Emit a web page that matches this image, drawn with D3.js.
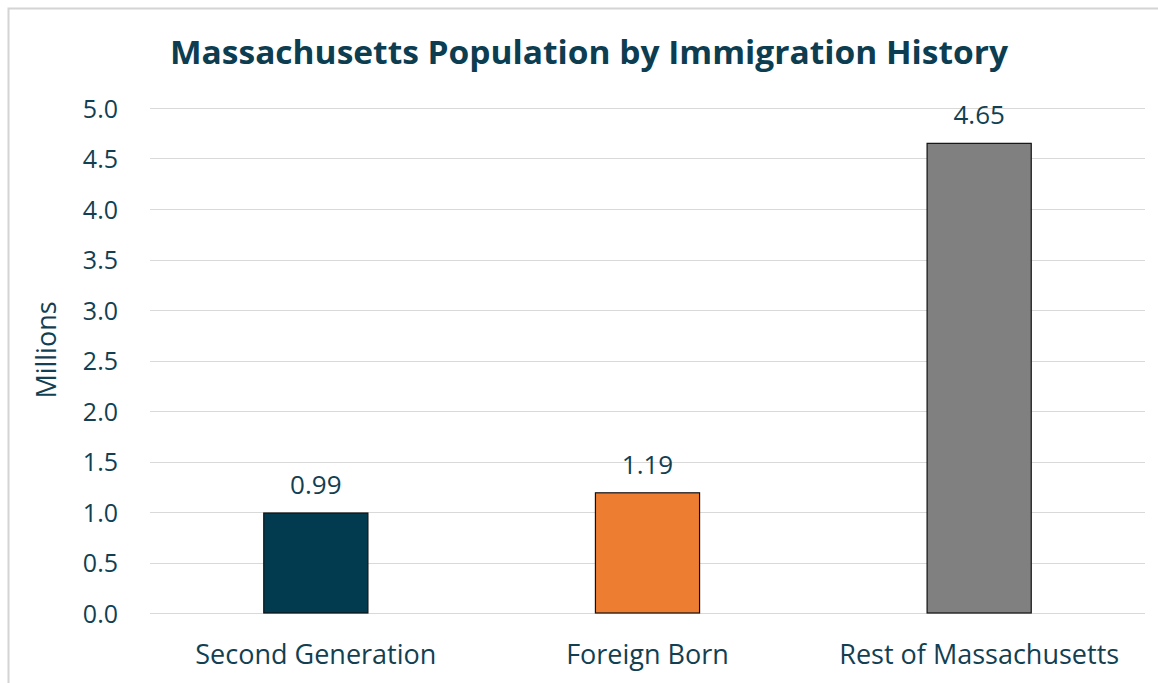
<!DOCTYPE html>
<html>
<head>
<meta charset="utf-8">
<script src="https://cdn.jsdelivr.net/npm/d3@7"></script>
<style>
  body { margin: 0; background: #fff; }
  text { font-family: "Open Sans", Lato, sans-serif; }
</style>
</head>
<body>
<div id="chart"></div>
<script>
// data
var categories = ["Second Generation", "Foreign Born", "Rest of Massachusetts"];
var values = [0.99, 1.19, 4.65];
var labels = ["0.99", "1.19", "4.65"];
var colors = ["#023b4f", "#ed7d31", "#808080"];
var yTicks = [0, 0.5, 1, 1.5, 2, 2.5, 3, 3.5, 4, 4.5, 5];

var W = 1158, H = 683;
var margin = {top: 108, right: 13, bottom: 70, left: 150};
var width = W - margin.left - margin.right,
    height = H - margin.top - margin.bottom;
var textColor = "#123f52";

var svg = d3.select("#chart").append("svg")
    .attr("width", W).attr("height", H);

// chart frame (only left and top edges are visible)
svg.append("path")
    .attr("d", "M8.5," + H + "V8.5H" + W)
    .attr("fill", "none")
    .attr("stroke", "#d4d4d4")
    .attr("stroke-width", 2);

var g = svg.append("g")
    .attr("transform", "translate(" + margin.left + "," + margin.top + ")");

var x = d3.scaleBand()
    .domain(categories)
    .range([0, width])
    .paddingInner(0.686)
    .paddingOuter(0.343);

var y = d3.scaleLinear()
    .domain([0, 5])
    .range([height, 0]);

// gridlines
g.selectAll(".grid")
    .data(yTicks)
    .enter().append("line")
    .attr("x1", 0).attr("x2", width)
    .attr("y1", function (d) { return Math.round(y(d)) + 0.5; })
    .attr("y2", function (d) { return Math.round(y(d)) + 0.5; })
    .attr("stroke", "#d9d9d9")
    .attr("stroke-width", 1);

// y axis labels
var yAxis = g.append("g")
    .attr("transform", "translate(-29,0)")
    .call(d3.axisLeft(y).tickValues(yTicks).tickFormat(d3.format(".1f")).tickSize(0));
yAxis.select(".domain").remove();
yAxis.selectAll("text")
    .attr("fill", textColor)
    .style("font-size", "25px")
    .attr("dy", "0.36em");

// bars
g.selectAll(".bar")
    .data(values)
    .enter().append("rect")
    .attr("x", function (d, i) { return x(categories[i]); })
    .attr("y", function (d) { return y(d); })
    .attr("width", x.bandwidth())
    .attr("height", function (d) { return height - y(d); })
    .attr("fill", function (d, i) { return colors[i]; })
    .attr("stroke", "#111")
    .attr("stroke-width", 1.2);

// value labels
g.selectAll(".val")
    .data(values)
    .enter().append("text")
    .attr("x", function (d, i) { return x(categories[i]) + x.bandwidth() / 2; })
    .attr("y", function (d) { return y(d) - 19; })
    .attr("text-anchor", "middle")
    .attr("fill", textColor)
    .style("font-size", "26px")
    .text(function (d, i) { return labels[i]; });

// x axis labels
var xAxis = g.append("g")
    .attr("transform", "translate(0," + (height + 51) + ")")
    .call(d3.axisBottom(x).tickSize(0));
xAxis.select(".domain").remove();
xAxis.selectAll("text")
    .attr("fill", textColor)
    .style("font-size", "27px")
    .attr("y", 0)
    .attr("dy", 0);

// y axis title
svg.append("text")
    .attr("transform", "translate(56,350) rotate(-90)")
    .attr("text-anchor", "middle")
    .attr("fill", textColor)
    .style("font-size", "27px")
    .text("Millions");

// chart title
svg.append("text")
    .attr("x", 589)
    .attr("y", 64)
    .attr("text-anchor", "middle")
    .attr("fill", "#0c3d50")
    .attr("textLength", 838)
    .attr("lengthAdjust", "spacingAndGlyphs")
    .style("font-size", "33px")
    .style("font-weight", "bold")
    .text("Massachusetts Population by Immigration History");
</script>
</body>
</html>
